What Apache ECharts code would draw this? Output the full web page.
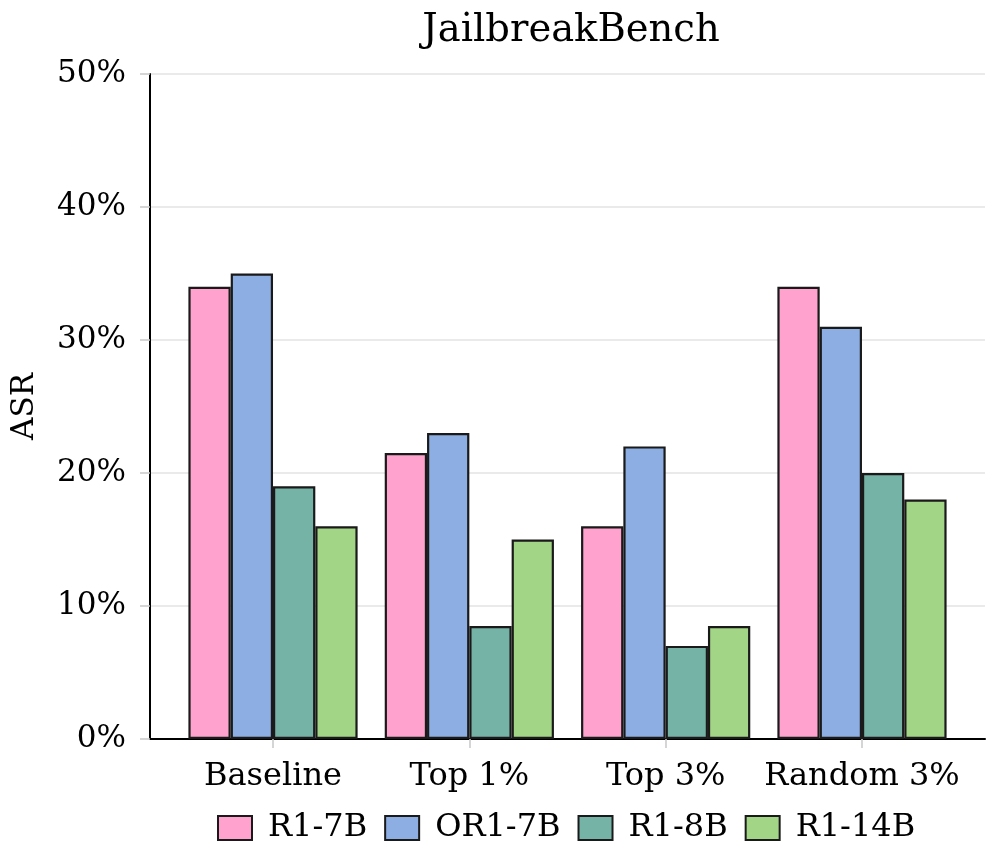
<!DOCTYPE html>
<html>
<head>
<meta charset="utf-8">
<script src="https://cdn.jsdelivr.net/npm/echarts@6/dist/echarts.min.js"></script>
<style>html,body{margin:0;padding:0;background:#fff}#c{width:996px;height:867px}</style>
</head>
<body>
<div id="c"></div>
<script>
const categories = ['Baseline', 'Top 1%', 'Top 3%', 'Random 3%'];
const seriesNames = ['R1-7B', 'OR1-7B', 'R1-8B', 'R1-14B'];
const r1_7b  = [34, 21.5, 16, 34];
const or1_7b = [35, 23, 22, 31];
const r1_8b  = [19, 8.5, 7, 20];
const r1_14b = [16, 15, 8.5, 18];
const yTicks = [0, 10, 20, 30, 40, 50];
const colors = ['#FFA3CE', '#8CAEE2', '#76B3A7', '#A2D585'];

const values = [r1_7b, or1_7b, r1_8b, r1_14b];
const serif = 'DejaVu Serif';
const chart = echarts.init(document.getElementById('c'), null, {renderer: 'canvas'});
chart.setOption({
  animation: false,
  backgroundColor: '#fff',
  title: {
    text: 'JailbreakBench', left: 566, textAlign: 'center', top: 6,
    textStyle: {fontFamily: serif, fontSize: 38.5, fontWeight: 'normal', color: '#000'}
  },
  legend: {
    data: seriesNames, left: 217, top: 812, padding: 0, itemWidth: 34, itemHeight: 24, itemGap: 17,
    icon: 'rect',
    textStyle: {fontFamily: serif, fontSize: 32, color: '#000', padding: [0, 0, 0, 11]}
  },
  grid: [
    {left: 150, right: 11, top: 74, bottom: 128},
    {left: 174.85, right: 35.85, top: 74, bottom: 128}
  ],
  xAxis: [
    {gridIndex: 0, type: 'category', data: [''], axisLine: {lineStyle: {color: '#000', width: 2}},
     axisTick: {show: false}, axisLabel: {show: false}, splitLine: {show: false}},
    {gridIndex: 1, type: 'category', data: categories, axisLine: {show: false},
     axisTick: {show: true, alignWithLabel: true, length: 9, lineStyle: {color: '#c8c8c8', width: 1.5}},
     axisLabel: {interval: 0, fontFamily: serif, fontSize: 32, color: '#000', margin: 22}}
  ],
  yAxis: [
    {gridIndex: 0, type: 'value', min: 0, max: 50, interval: 10,
     name: 'ASR', nameLocation: 'middle', nameGap: 110,
     nameTextStyle: {fontFamily: serif, fontSize: 31, color: '#000'},
     axisLine: {show: true, lineStyle: {color: '#000', width: 2}},
     axisTick: {show: true, length: 10, lineStyle: {color: '#c8c8c8', width: 1.5}},
     axisLabel: {fontFamily: serif, fontSize: 31, color: '#000', margin: 24,
       formatter: v => yTicks.includes(v) ? v + '%' : ''},
     splitLine: {show: true, lineStyle: {color: '#e3e3e3', width: 1.5}}},
    {gridIndex: 1, type: 'value', min: 0, max: 50, interval: 10, show: false, splitLine: {show: false}}
  ],
  series: seriesNames.map((n, i) => ({
    name: n, type: 'bar', xAxisIndex: 1, yAxisIndex: 1, data: values[i],
    barWidth: 42.3, barGap: '0%',
    itemStyle: {color: colors[i], borderColor: '#1a1a1a', borderWidth: 2.2}
  }))
});
</script>
</body>
</html>
